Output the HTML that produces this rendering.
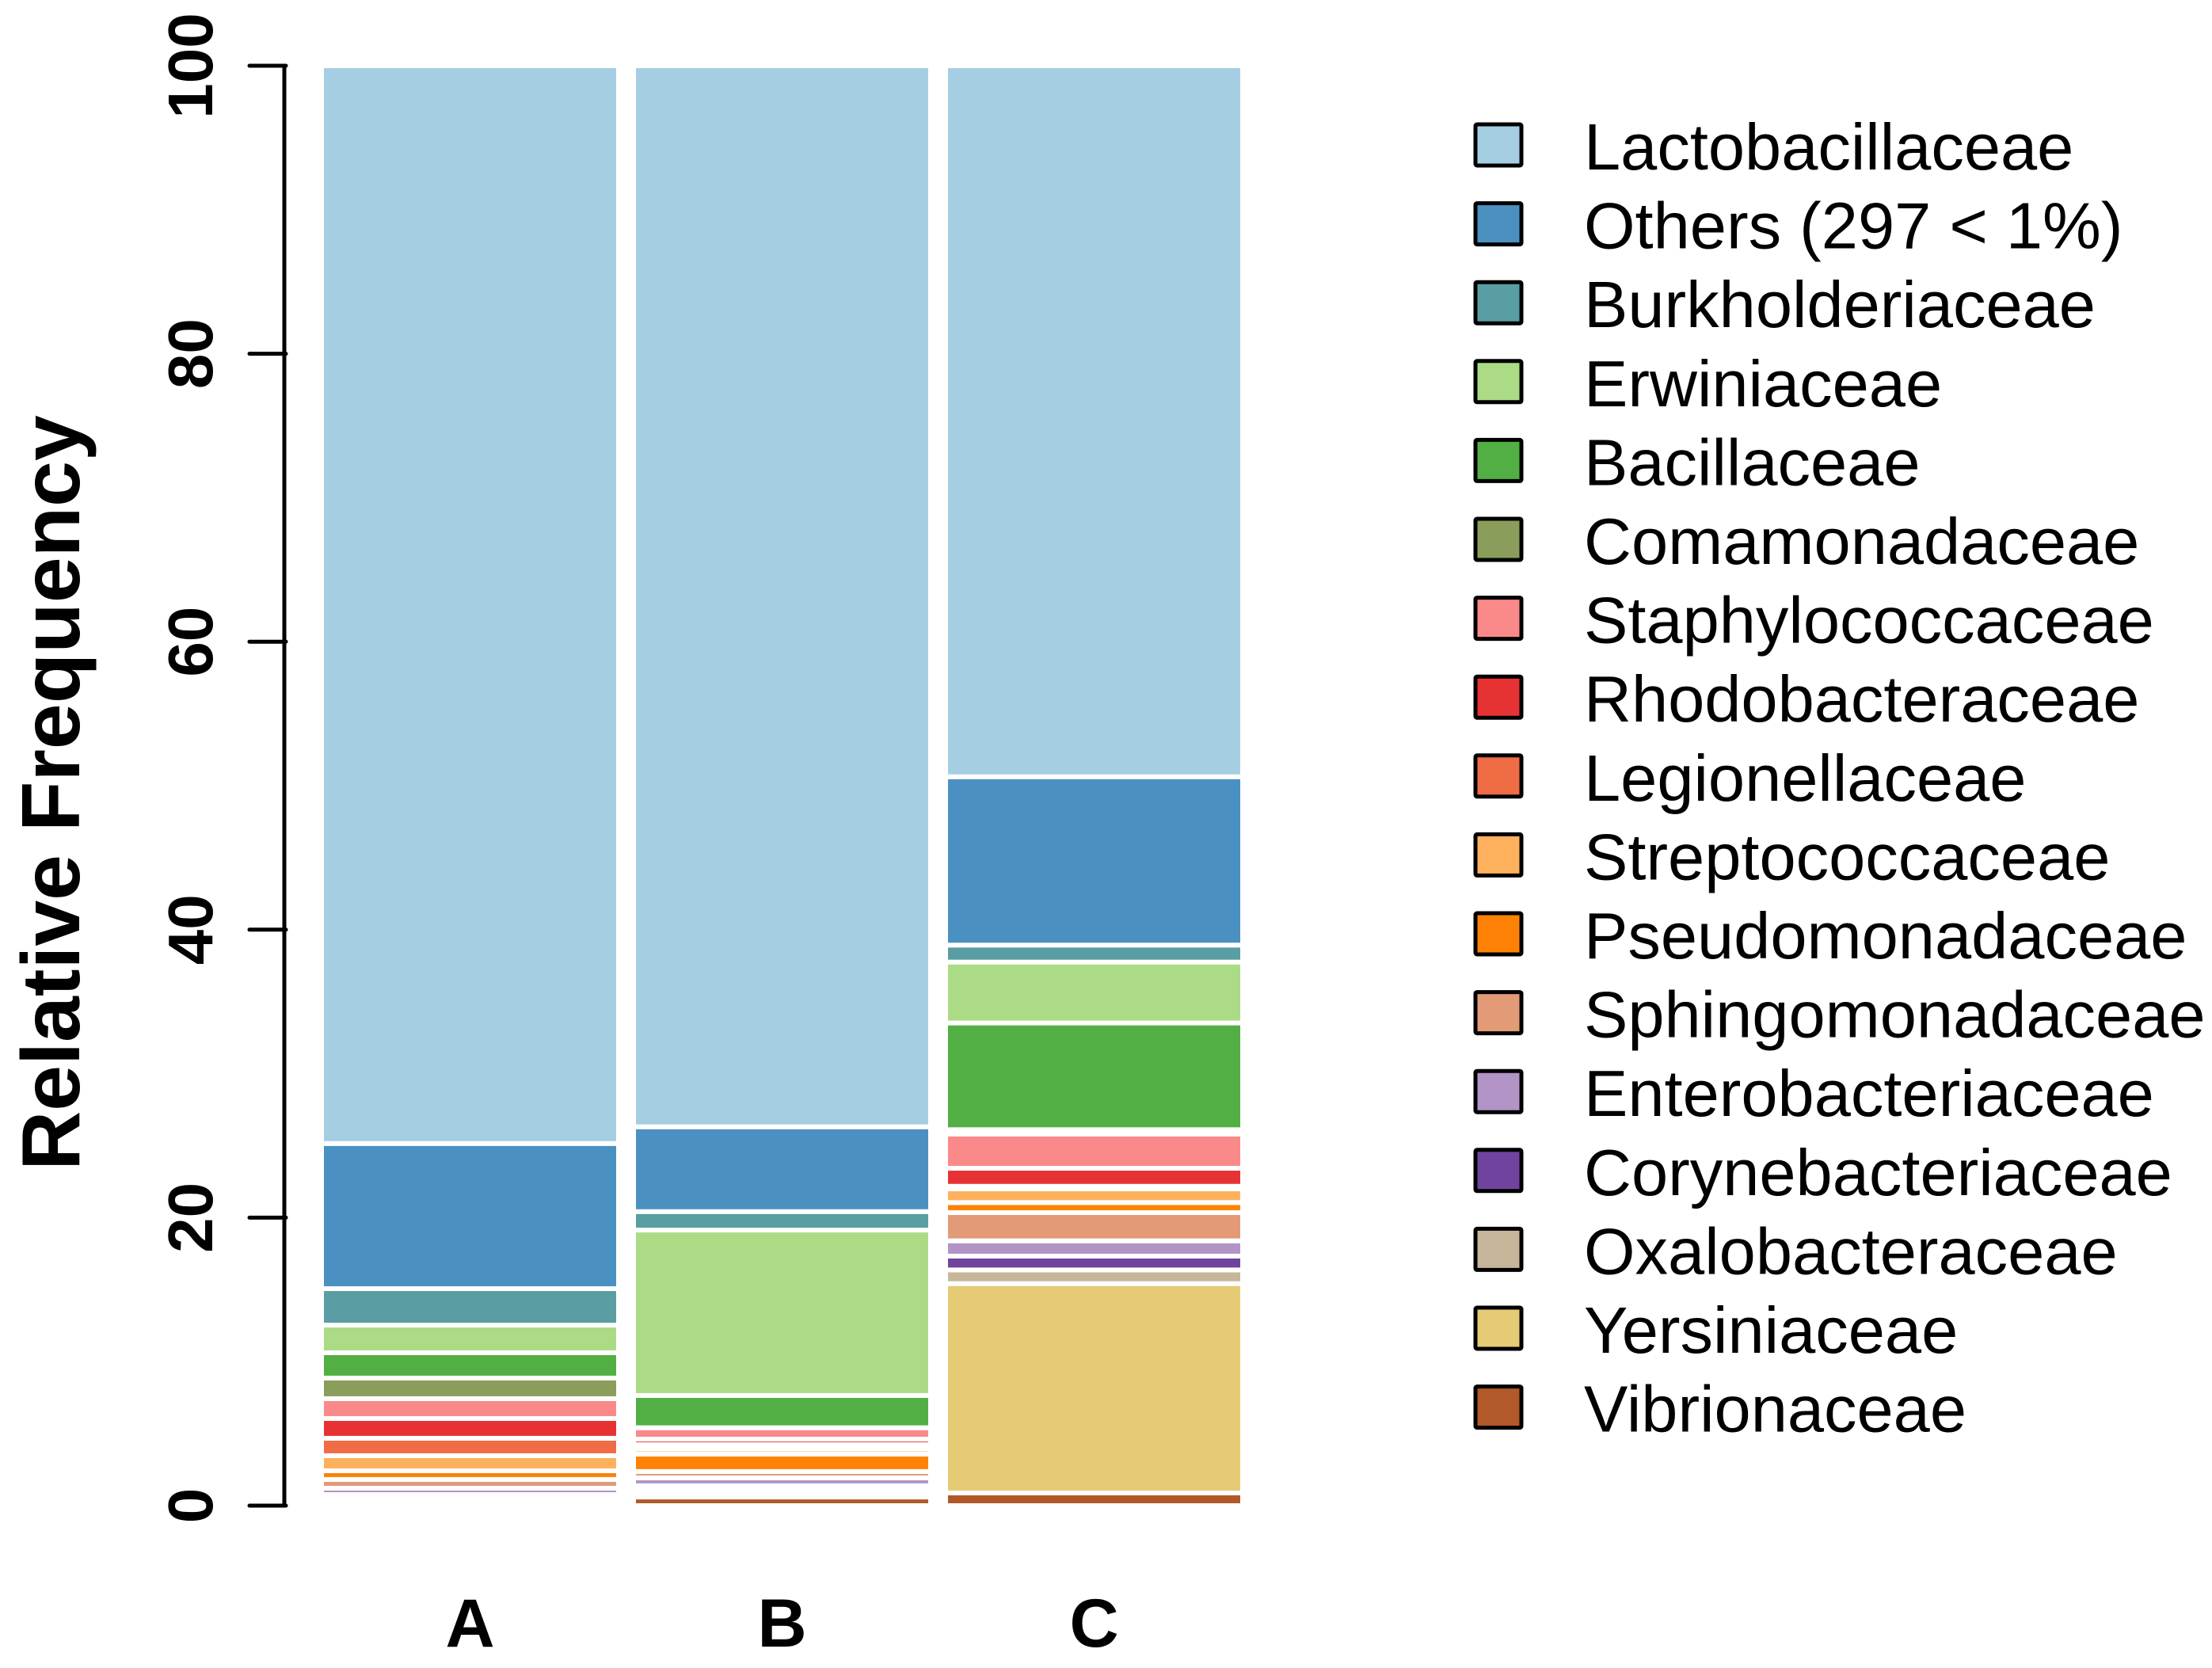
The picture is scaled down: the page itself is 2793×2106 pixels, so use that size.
<!DOCTYPE html>
<html><head><meta charset="utf-8"><style>
html,body{margin:0;padding:0;background:#fff;}
svg{display:block;font-family:"Liberation Sans",sans-serif;}
</style></head><body>
<svg id="chart" width="2793" height="2106" viewBox="0 0 2793 2106" xmlns="http://www.w3.org/2000/svg">
<g id="axis"></g>
<g id="bars"></g>
<g id="legend"></g>
<text x="0" y="0" transform="translate(100,1001) rotate(-90)" text-anchor="middle" font-size="104" font-weight="bold">Relative Frequency</text>
</svg>
<script>
const categories = ["A", "B", "C"];
const families = ["Lactobacillaceae","Others (297 < 1%)","Burkholderiaceae","Erwiniaceae","Bacillaceae","Comamonadaceae","Staphylococcaceae","Rhodobacteraceae","Legionellaceae","Streptococcaceae","Pseudomonadaceae","Sphingomonadaceae","Enterobacteriaceae","Corynebacteriaceae","Oxalobacteraceae","Yersiniaceae","Vibrionaceae"];
const colors = ["#A6CEE3","#4A91C2","#599EA2","#ABDB85","#52AF43","#8A9D5B","#F98A89","#E73233","#F06C45","#FDB15D","#FE8205","#E29A77","#B294C7","#70449E","#C7B699","#E5CB75","#B15928"];
const valuesA = [74.85,10.08,2.53,1.92,1.76,1.43,1.38,1.37,1.21,1.05,0.60,0.61,0.44,0.20,0.20,0.20,0.17];
const valuesB = [73.69,5.89,1.28,11.49,2.24,0.00,0.79,0.38,0.30,0.36,1.21,0.44,0.55,0.30,0.30,0.18,0.60];
const valuesC = [49.38,11.69,1.18,4.23,7.41,0.30,2.38,1.25,0.18,0.95,0.70,1.96,1.06,0.96,0.95,14.54,0.88];
const seriesValues = [valuesA, valuesB, valuesC];
const yTicks = [0, 20, 40, 60, 80, 100];

const NS = "http://www.w3.org/2000/svg";
const y0 = 1901, y100 = 83;
function yScale(v){ return y0 - (y0 - y100) * v / 100; }
const barLeft = 406, barStep = 394, barW = 375;
function xScale(i){ return barLeft + i * barStep; }

const axis = document.getElementById("axis");
const line = document.createElementNS(NS, "line");


line.setAttribute("x1", 359); line.setAttribute("x2", 359);
line.setAttribute("y1", yScale(0)); line.setAttribute("y2", yScale(100));
line.setAttribute("stroke", "#000"); line.setAttribute("stroke-width", 5);
axis.appendChild(line);
yTicks.forEach(t => {
  const tk = document.createElementNS(NS, "line");
  
  
  tk.setAttribute("x1", 315); tk.setAttribute("x2", 361);
  tk.setAttribute("y1", yScale(t)); tk.setAttribute("y2", yScale(t));
  tk.setAttribute("stroke", "#000"); tk.setAttribute("stroke-width", 5);
  tk.setAttribute("stroke-linecap", "round");
  axis.appendChild(tk);
  const lb = document.createElementNS(NS, "text");
  
  
  lb.setAttribute("transform", "translate(268," + yScale(t) + ") rotate(-90)");
  lb.setAttribute("text-anchor", "middle");
  lb.setAttribute("font-size", 80); lb.setAttribute("font-weight", "bold");
  lb.textContent = String(t);
  axis.appendChild(lb);
});

const bars = document.getElementById("bars");
categories.forEach((c, i) => {
  const vals = seriesValues[i];
  let cum = 0;
  for (let k = vals.length - 1; k >= 0; k--) {
    const v = vals[k];
    const top = yScale(cum + v), bot = yScale(cum);
    const r = document.createElementNS(NS, "rect");
    
    
    r.setAttribute("x", xScale(i)); r.setAttribute("y", top);
    r.setAttribute("width", barW); r.setAttribute("height", Math.max(0, bot - top));
    r.setAttribute("fill", colors[k]); r.setAttribute("stroke", "#fff"); r.setAttribute("stroke-width", 6);
    bars.appendChild(r);
    cum += v;
  }
  const xl = document.createElementNS(NS, "text");
  
  
  xl.setAttribute("x", xScale(i) + barW / 2); xl.setAttribute("y", 2079);
  xl.setAttribute("text-anchor", "middle");
  xl.setAttribute("font-size", 86); xl.setAttribute("font-weight", "bold");
  xl.textContent = c;
  bars.appendChild(xl);
});

const legend = document.getElementById("legend");
families.forEach((f, k) => {
  const cy = 183 + k * 99.6;
  const b = document.createElementNS(NS, "rect");
  
  
  b.setAttribute("x", 1863); b.setAttribute("y", cy - 26);
  b.setAttribute("width", 58); b.setAttribute("height", 52);
  b.setAttribute("fill", colors[k]); b.setAttribute("stroke", "#000"); b.setAttribute("stroke-width", 5);
  b.setAttribute("rx", 2);
  legend.appendChild(b);
  const t = document.createElementNS(NS, "text");
  
  
  t.setAttribute("x", 2000); t.setAttribute("y", cy + 31);
  t.setAttribute("font-size", 83);
  t.textContent = f;
  legend.appendChild(t);
});
</script>
</body></html>
